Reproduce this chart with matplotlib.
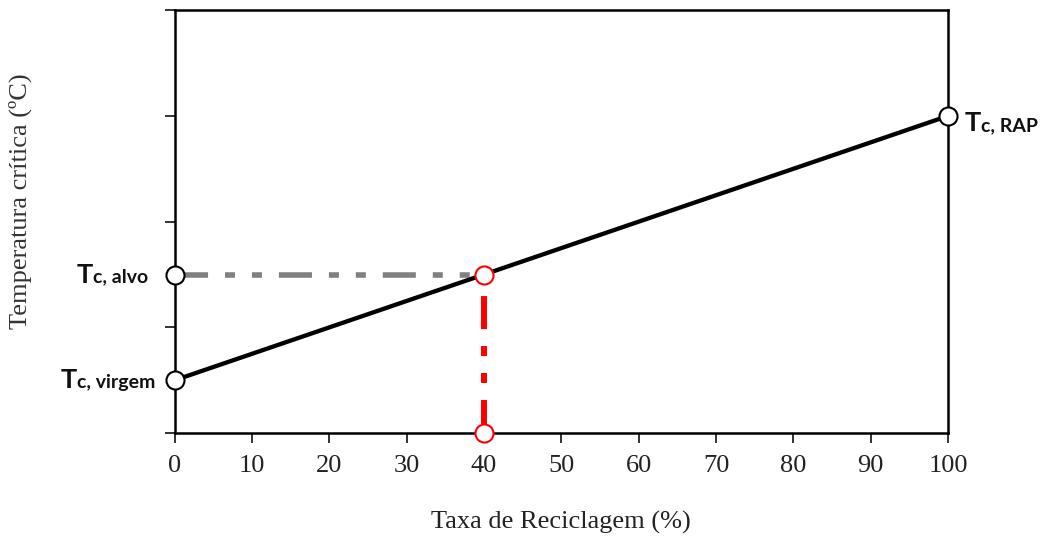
import matplotlib.pyplot as plt
from matplotlib.offsetbox import TextArea, HPacker, AnnotationBbox

# data
x_ticks = [0, 10, 20, 30, 40, 50, 60, 70, 80, 90, 100]
y_ticks = [0, 1, 2, 3, 4]
recycle_rate = [0, 100]
crit_temp = [0.5, 3.0]
target_rate = 40
target_temp = 1.5

plt.rcParams['lines.scale_dashes'] = False

fig = plt.figure(figsize=(10.4, 5.4), dpi=100)
ax = fig.add_axes([0.168, 0.198, 0.7435, 0.783])

# critical temperature line
ax.plot(recycle_rate, crit_temp, color='black', lw=3.1, zorder=3)

pattern = (0, (23.8, 12.2, 7.2, 12.2, 7.2, 12.2))
ax.plot([0, target_rate], [target_temp, target_temp], color='#808080', lw=4,
        linestyle=pattern, dash_capstyle='butt', zorder=2)
ax.plot([target_rate, target_rate], [0, target_temp], color='#ff0000', lw=4.3,
        linestyle=pattern, dash_capstyle='butt', zorder=2)

# markers
ax.plot([0, 0, 100], [crit_temp[0], target_temp, crit_temp[1]], 'o', ms=13,
        mfc='white', mec='black', mew=1.5, clip_on=False, zorder=5)
ax.plot([target_rate, target_rate], [target_temp, 0], 'o', ms=13,
        mfc='white', mec='#ff0000', mew=1.5, clip_on=False, zorder=5)

ax.set_xlim(0, 100)
ax.set_ylim(0, 4)
ax.set_xticks(x_ticks)
ax.set_yticks(y_ticks)
ax.set_yticklabels([])
ax.tick_params(direction='out', length=7, width=1.3, color='#222222')
ax.tick_params(axis='x', pad=9, labelsize=19, labelcolor='#222222')
for lbl in ax.get_xticklabels():
    lbl.set_family('Liberation Serif')
for s in ax.spines.values():
    s.set_linewidth(1.8)

ax.set_xlabel('Taxa de Reciclagem (%)', family='Liberation Serif', fontsize=19,
              color='#222222', labelpad=24)
fig.text(20 / 1040, 1 - 201 / 540, 'Temperatura crítica (ºC)', rotation=90,
         family='Liberation Serif', fontsize=19, color='#333333',
         ha='center', va='center')


def tc_label(sub, xy, offset, align):
    big = TextArea('T', textprops=dict(size=19.5, weight='bold', family='Lato', color='#111111'))
    small = TextArea(sub, textprops=dict(size=14, weight='bold', family='Lato', color='#111111'))
    box = HPacker(children=[big, small], align='baseline', pad=0, sep=0)
    ab = AnnotationBbox(box, xy, xybox=offset, boxcoords='offset points',
                        box_alignment=align, frameon=False, annotation_clip=False)
    ax.add_artist(ab)


tc_label('c, alvo', (0, target_temp), (-19, 0), (1, 0.5))
tc_label('c, virgem', (0, crit_temp[0]), (-14, 0), (1, 0.5))
tc_label('c, RAP', (100, crit_temp[1]), (12, -5), (0, 0.5))

fig.savefig('out.png', dpi=100)
